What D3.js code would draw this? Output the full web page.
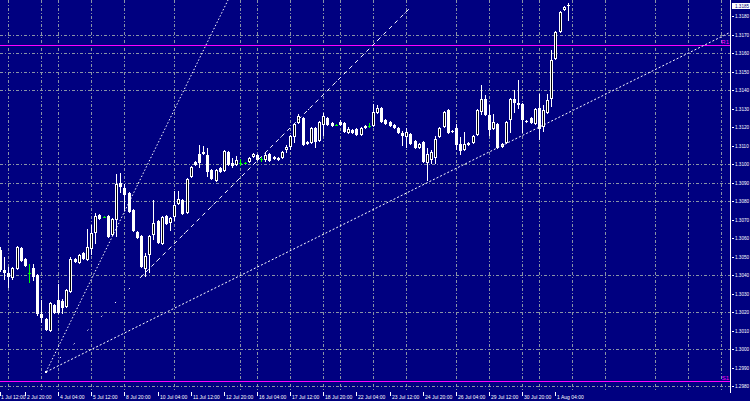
<!DOCTYPE html>
<html><head><meta charset="utf-8">
<script src="https://cdn.jsdelivr.net/npm/d3@7"></script>
<style>html,body{margin:0;padding:0;background:#000080;overflow:hidden}svg{display:block}</style>
</head><body><svg id="c" width="750" height="401"></svg>
<script>
// ---------- data ----------
const firstBar = -2;
const opens = [1.30535,1.30427,1.30411,1.30384,1.30432,1.30546,1.30486,1.30411,1.30438,1.30400,
1.30189,1.30162,1.30097,1.30238,1.30265,1.30259,1.30227,1.30308,1.30486,1.30465,
1.30519,1.30481,1.30541,1.30627,1.30724,1.30714,1.30719,1.30616,1.30697,1.30897,
1.30870,1.30843,1.30751,1.30632,1.30611,1.30432,1.30508,1.30616,1.30692,1.30568,
1.30719,1.30681,1.30714,1.30784,1.30805,1.30735,1.30930,1.31011,1.31054,1.31065,
1.31049,1.30968,1.30908,1.30978,1.30962,1.31065,1.31005,1.30995,1.31005,1.31005,
1.31011,1.31038,1.31049,1.31027,1.31022,1.31054,1.31038,1.31032,1.31032,1.31076,
1.31092,1.31146,1.31222,1.31249,1.31108,1.31114,1.31195,1.31124,1.31211,1.31249,
1.31222,1.31211,1.31227,1.31222,1.31168,1.31184,1.31189,1.31157,1.31205,1.31205,
1.31205,1.31276,1.31303,1.31238,1.31227,1.31211,1.31195,1.31168,1.31146,1.31162,
1.31124,1.31086,1.31119,1.31005,1.31022,1.31032,1.31146,1.31200,1.31292,1.31178,
1.31195,1.31108,1.31076,1.31103,1.31114,1.31157,1.31281,1.31351,1.31265,1.31189,
1.31216,1.31092,1.31114,1.31238,1.31351,1.31330,1.31324,1.31232,1.31249,1.31216,
1.31303,1.31200,1.31276,1.31351,1.31568,1.31714,1.31832,1.31859];
const highs = [1.30551,1.30497,1.30443,1.30443,1.30557,1.30551,1.30492,1.30459,1.30459,1.30405,
1.30265,1.30168,1.30254,1.30243,1.30351,1.30270,1.30324,1.30497,1.30492,1.30513,
1.30524,1.30649,1.30670,1.30735,1.30730,1.30719,1.30724,1.30708,1.30946,1.30951,
1.30892,1.30849,1.30757,1.30638,1.30616,1.30519,1.30616,1.30805,1.30697,1.30719,
1.30724,1.30714,1.30854,1.30854,1.30811,1.30924,1.30989,1.31016,1.31103,1.31097,
1.31086,1.30973,1.30973,1.30984,1.31076,1.31070,1.31032,1.31043,1.31027,1.31011,
1.31038,1.31059,1.31054,1.31038,1.31059,1.31059,1.31043,1.31038,1.31070,1.31103,
1.31157,1.31222,1.31270,1.31254,1.31124,1.31200,1.31200,1.31232,1.31276,1.31254,
1.31227,1.31216,1.31238,1.31227,1.31200,1.31189,1.31195,1.31200,1.31211,1.31222,
1.31324,1.31319,1.31308,1.31243,1.31232,1.31216,1.31200,1.31178,1.31195,1.31168,
1.31130,1.31114,1.31124,1.31086,1.31076,1.31151,1.31200,1.31286,1.31297,1.31184,
1.31216,1.31146,1.31173,1.31119,1.31157,1.31297,1.31427,1.31373,1.31319,1.31270,
1.31222,1.31114,1.31232,1.31357,1.31400,1.31454,1.31330,1.31238,1.31254,1.31303,
1.31378,1.31319,1.31378,1.31616,1.31719,1.31827,1.31854,1.31870];
const lows = [1.30416,1.30373,1.30330,1.30373,1.30427,1.30470,1.30443,1.30357,1.30368,1.30178,
1.30141,1.30097,1.30092,1.30189,1.30189,1.30189,1.30222,1.30303,1.30465,1.30459,
1.30481,1.30476,1.30508,1.30568,1.30697,1.30708,1.30600,1.30611,1.30605,1.30843,
1.30746,1.30735,1.30632,1.30595,1.30438,1.30389,1.30411,1.30589,1.30568,1.30562,
1.30670,1.30638,1.30692,1.30778,1.30724,1.30730,1.30924,1.30989,1.30978,1.31049,
1.30930,1.30914,1.30903,1.30951,1.30957,1.30989,1.30978,1.30989,1.30989,1.31000,
1.31005,1.31032,1.31016,1.31011,1.31011,1.31011,1.31022,1.31016,1.31027,1.31059,
1.31076,1.31114,1.31216,1.31097,1.31103,1.31108,1.31086,1.31119,1.31151,1.31205,
1.31200,1.31205,1.31205,1.31168,1.31162,1.31162,1.31151,1.31151,1.31189,1.31195,
1.31200,1.31270,1.31222,1.31211,1.31200,1.31189,1.31162,1.31097,1.31086,1.31103,
1.31081,1.31081,1.31005,1.30908,1.31000,1.31000,1.31140,1.31195,1.31162,1.31168,
1.31076,1.31049,1.31070,1.31097,1.31108,1.31151,1.31265,1.31259,1.31151,1.31184,
1.31081,1.31086,1.31108,1.31168,1.31276,1.31297,1.31168,1.31222,1.31216,1.31211,
1.31130,1.31173,1.31270,1.31308,1.31562,1.31708,1.31827,1.31773];
const closes = [1.30427,1.30411,1.30389,1.30438,1.30551,1.30476,1.30449,1.30411,1.30389,1.30189,
1.30168,1.30103,1.30249,1.30195,1.30195,1.30222,1.30319,1.30486,1.30470,1.30508,
1.30486,1.30551,1.30627,1.30719,1.30703,1.30714,1.30605,1.30703,1.30892,1.30876,
1.30832,1.30740,1.30638,1.30600,1.30443,1.30503,1.30611,1.30681,1.30573,1.30714,
1.30676,1.30708,1.30778,1.30811,1.30730,1.30919,1.30984,1.30995,1.31005,1.31054,
1.30957,1.30919,1.30968,1.30957,1.31070,1.30995,1.30989,1.31022,1.31005,1.31005,
1.31032,1.31054,1.31022,1.31027,1.31049,1.31016,1.31027,1.31022,1.31065,1.31092,
1.31151,1.31216,1.31259,1.31103,1.31119,1.31195,1.31119,1.31227,1.31259,1.31211,
1.31205,1.31211,1.31211,1.31173,1.31189,1.31168,1.31157,1.31195,1.31195,1.31205,
1.31281,1.31303,1.31227,1.31216,1.31205,1.31195,1.31168,1.31151,1.31173,1.31108,
1.31086,1.31108,1.31011,1.31054,1.31065,1.31135,1.31195,1.31281,1.31168,1.31173,
1.31103,1.31070,1.31108,1.31114,1.31151,1.31292,1.31351,1.31265,1.31184,1.31227,
1.31086,1.31108,1.31227,1.31351,1.31330,1.31319,1.31238,1.31227,1.31222,1.31297,
1.31189,1.31292,1.31346,1.31562,1.31714,1.31822,1.31849,1.31854];

const priceTicks = [1.2980,1.2990,1.3000,1.3010,1.3020,1.3030,1.3040,1.3050,1.3060,1.3070,
1.3080,1.3090,1.3100,1.3110,1.3120,1.3130,1.3140,1.3150,1.3160,1.3170,1.3180];
const gridPrices = [1.3170,1.3160,1.3150,1.3140,1.3100,1.3090,1.3080,1.3040,1.3020,1.3000,1.2980];
const gridBars = [0,8,12,20,28,40,56,60,68,76,80,88,96,108,116,124,128,136,144,156,164,172];
const timeLabelBars = [-4,4,12,20,28,36,44,52,60,68,76,84,92,100,108,116,124,132];
const timeLabels = ["1 Jul 12:00","2 Jul 20:00","4 Jul 04:00","5 Jul 12:00","8 Jul 20:00","10 Jul 04:00",
"11 Jul 12:00","12 Jul 20:00","16 Jul 04:00","17 Jul 12:00","18 Jul 20:00","22 Jul 04:00",
"23 Jul 12:00","24 Jul 20:00","26 Jul 04:00","29 Jul 12:00","30 Jul 20:00","1 Aug 04:00"];
const levelPrices = [1.31643, 1.29827];
const levelNames = ["R1", "S1"];
const fanAnchor = {bar: 9.1, price: 1.29876};
const fanEnds = [{bar: 53.0, price: 1.31886}, {bar: 96.9, price: 1.31843}, {bar: 174.1, price: 1.31711}];
const currentPrice = 1.31854;

// ---------- drawing ----------
const W = 750, H = 401, plotR = 730, plotB = 391;
const FONT = "Liberation Sans, Arial, sans-serif";
const svg = d3.select("#c");
const x = d3.scaleLinear().domain([0, 172]).range([8.3, 8.3 + 4.145 * 172]);
const y = d3.scaleLinear().domain([1.2980, 1.3180]).range([386, 16]);
const fmt = d3.format(".4f");

svg.append("rect").attr("width", W).attr("height", H).attr("fill", "#000080");
svg.append("defs").append("clipPath").attr("id", "plot")
  .append("rect").attr("x", 0).attr("y", 0).attr("width", plotR).attr("height", plotB);

const grid = svg.append("g").attr("shape-rendering", "crispEdges")
  .attr("stroke", "#8a94a6").attr("stroke-width", 1).attr("stroke-dasharray", "3,2,1,2");
grid.selectAll("line.h").data(gridPrices).join("line")
  .attr("x1", 0).attr("x2", plotR)
  .attr("y1", d => Math.round(y(d)) + 0.5).attr("y2", d => Math.round(y(d)) + 0.5);
grid.selectAll("line.v").data(gridBars).join("line")
  .attr("y1", 0).attr("y2", plotB)
  .attr("x1", d => Math.round(x(d)) + 0.5).attr("x2", d => Math.round(x(d)) + 0.5);

// magenta horizontal levels
const lv = svg.append("g");
lv.selectAll("line").data(levelPrices).join("line")
  .attr("x1", 0).attr("x2", plotR)
  .attr("y1", d => Math.round(y(d)) + 0.5).attr("y2", d => Math.round(y(d)) + 0.5)
  .attr("stroke", "#ff00ff").attr("stroke-width", 1).attr("shape-rendering", "crispEdges");
lv.selectAll("text").data(levelPrices).join("text")
  .attr("x", plotR - 1).attr("y", d => Math.round(y(d)) - 1)
  .attr("text-anchor", "end").attr("fill", "#ff00ff")
  .attr("font-family", FONT).attr("font-size", 6)
  .text((d, i) => levelNames[i]);

// candles
const bars = opens.map((o, i) => ({n: firstBar + i, o, h: highs[i], l: lows[i], c: closes[i]}));
const cg = svg.append("g").attr("clip-path", "url(#plot)").attr("shape-rendering", "crispEdges");
bars.forEach(b => {
  const cx = Math.round(x(b.n));
  const doji = Math.abs(b.o - b.c) < 0.00002;
  const bull = b.c > b.o;
  const yH = Math.round(y(b.h)), yL = Math.round(y(b.l));
  const yT = Math.round(y(Math.max(b.o, b.c))), yB = Math.round(y(Math.min(b.o, b.c)));
  const col = doji ? "#00ff00" : "#ffffff";
  cg.append("rect").attr("x", cx).attr("y", yH).attr("width", 1).attr("height", Math.max(1, yL - yH)).attr("fill", col);
  if (doji) {
    cg.append("rect").attr("x", cx - 1).attr("y", yT).attr("width", 3).attr("height", 1).attr("fill", col);
  } else if (bull) {
    const h = Math.max(1, yB - yT - 1);
    cg.append("rect").attr("x", cx - 0.5).attr("y", yT + 0.5).attr("width", 2).attr("height", h)
      .attr("fill", "#000000").attr("stroke", "#ffffff").attr("stroke-width", 1);
  } else {
    cg.append("rect").attr("x", cx - 1).attr("y", yT).attr("width", 3).attr("height", Math.max(1, yB - yT)).attr("fill", "#ffffff");
  }
});

// fan / trend lines
const fg = svg.append("g").attr("clip-path", "url(#plot)").attr("fill", "none").attr("stroke", "#ffffff");
const ax = x(fanAnchor.bar), ay = y(fanAnchor.price);
const ends = fanEnds.map(e => [x(e.bar), y(e.price)]);
fg.append("line").attr("x1", ax).attr("y1", ay).attr("x2", ends[0][0]).attr("y2", ends[0][1])
  .attr("stroke-width", 1).attr("stroke-dasharray", "1.5,2");
fg.append("line").attr("x1", ax).attr("y1", ay).attr("x2", ends[1][0]).attr("y2", ends[1][1])
  .attr("stroke-width", 1).attr("stroke-dasharray", "1.5,18");
const t0 = 0.2585;
fg.append("line").attr("x1", ax + (ends[1][0] - ax) * t0).attr("y1", ay + (ends[1][1] - ay) * t0)
  .attr("x2", ends[1][0]).attr("y2", ends[1][1])
  .attr("stroke-width", 1).attr("stroke-dasharray", "4,4");
fg.append("line").attr("x1", ax).attr("y1", ay).attr("x2", ends[2][0]).attr("y2", ends[2][1])
  .attr("stroke-width", 1).attr("stroke-dasharray", "2,2");
svg.append("rect").attr("x", Math.round(ax) - 1).attr("y", Math.round(ay) - 1).attr("width", 2).attr("height", 2).attr("fill", "#ffffff");

// right price axis
svg.append("line").attr("x1", plotR + 0.5).attr("x2", plotR + 0.5).attr("y1", 0).attr("y2", 393)
  .attr("stroke", "#ffffff").attr("shape-rendering", "crispEdges");
const pa = svg.append("g");
pa.selectAll("rect").data(priceTicks).join("rect")
  .attr("x", plotR + 2).attr("y", d => Math.round(y(d))).attr("width", 2).attr("height", 1).attr("fill", "#fff");
pa.selectAll("text").data(priceTicks).join("text")
  .attr("x", 735).attr("y", d => Math.round(y(d)) + 2)
  .attr("fill", "#ffffff").attr("font-family", FONT).attr("font-size", 4.6)
  .text(d => fmt(d));
const cy = Math.round(y(currentPrice));
svg.append("rect").attr("x", 732).attr("y", cy - 3).attr("width", 18).attr("height", 6).attr("fill", "#ffffff");
svg.append("text").attr("x", 735).attr("y", cy + 2).attr("fill", "#000080")
  .attr("font-family", FONT).attr("font-size", 4.6).text(fmt(currentPrice));

// time axis
const ta = svg.append("g");
ta.selectAll("rect").data(timeLabelBars).join("rect")
  .attr("x", d => Math.max(0, Math.round(x(d)))).attr("y", 392).attr("width", 1).attr("height", 4).attr("fill", "#fff");
ta.selectAll("text").data(timeLabelBars).join("text")
  .attr("x", d => Math.max(1, Math.round(x(d)) + 2)).attr("y", 399)
  .attr("fill", "#ffffff").attr("font-family", FONT).attr("font-size", 5)
  .text((d, i) => timeLabels[i]);
</script></body></html>
